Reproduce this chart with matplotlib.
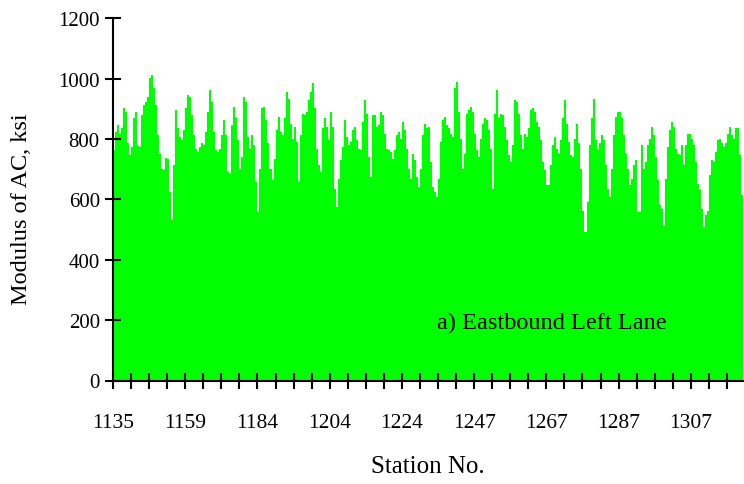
import numpy as np
import matplotlib.pyplot as plt

# modulus of AC (ksi) per test point
modulus_1 = [763, 823, 846, 818, 835, 901, 890, 785, 746, 774,
             868, 890, 777, 774, 879, 914, 923, 940, 1001, 1012,
             968, 912, 812, 751, 702, 696, 737, 733, 624, 530,
             713, 896, 835, 807, 796, 829, 901, 945, 940, 879,
             812, 768, 757, 774, 785, 779, 823, 890, 962, 923,
             823, 763]
modulus_2 = [757, 768, 812, 862, 812, 689, 685, 846, 907, 868,
             796, 702, 740, 940, 923, 807, 768, 812, 779, 657,
             558, 702, 901, 907, 862, 785, 702, 663, 735, 829,
             873, 823, 812, 868, 956, 934, 851, 801, 840, 790,
             657, 812, 884, 879, 890, 929, 956, 984, 901, 768,
             713, 691, 835]
modulus_3 = [868, 840, 796, 890, 840, 635, 574, 668, 729, 774,
             862, 807, 779, 790, 829, 840, 796, 768, 763, 857,
             929, 884, 740, 674, 879, 879, 840, 846, 890, 879,
             818, 768, 763, 757, 735, 763, 812, 823, 801, 857,
             829, 768, 702, 668, 751, 729, 674, 641, 702, 812,
             851, 835]
modulus_4 = [840, 724, 641, 624, 607, 668, 790, 862, 873, 846,
             835, 818, 807, 968, 990, 890, 801, 702, 751, 884,
             896, 907, 890, 818, 763, 740, 801, 851, 868, 862,
             829, 768, 635, 884, 962, 868, 884, 879, 840, 796,
             746, 724, 779, 929, 923, 884, 812, 768, 818, 807,
             835, 896, 901]
modulus_5 = [890, 857, 840, 796, 724, 696, 646, 646, 713, 779,
             807, 768, 751, 796, 868, 929, 851, 790, 746, 740,
             801, 851, 785, 702, 560, 491, 591, 779, 868, 934,
             796, 763, 785, 812, 796, 713, 635, 607, 702, 812,
             873, 890, 890, 868, 812, 751, 702, 646, 668, 713,
             729, 558]
modulus_6 = [558, 779, 702, 724, 779, 801, 840, 812, 740, 663,
             580, 569, 513, 668, 774, 829, 857, 840, 768, 751,
             746, 779, 713, 779, 818, 818, 801, 781, 724, 652,
             630, 569, 508, 547, 563, 679, 729, 724, 757, 796,
             801, 785, 774, 785, 818, 840, 812, 801, 835, 835,
             746, 613]

station_labels = ['1135', '1159', '1184', '1204', '1224',
                  '1247', '1267', '1287', '1307']

modulus = modulus_1 + modulus_2 + modulus_3 + modulus_4 + modulus_5 + modulus_6
n = len(modulus)
idx = np.arange(n)

plt.rcParams['font.family'] = ['Liberation Serif', 'DejaVu Serif']

fig = plt.figure(figsize=(7.44, 4.85), dpi=100)
ax = fig.add_axes([113/744, 1-381.5/485, 630/744, 362.3/485])

ax.bar(idx, modulus, width=1.0, color='#00ff00', edgecolor='none', align='center')

ax.set_xlim(-0.5, n - 0.5)
ax.set_ylim(0, 1200)
ax.set_yticks(np.arange(0, 1201, 200))

# tick every 9 points, label every 36
ax.set_xticks(np.arange(-0.5, n - 1, 9), minor=True)
ax.set_xticks(-0.5 + 36 * np.arange(len(station_labels)))
ax.set_xticklabels(station_labels)

for s in ['top', 'right']:
    ax.spines[s].set_visible(False)
for s in ['left', 'bottom']:
    ax.spines[s].set_linewidth(1.5)
    ax.spines[s].set_color('black')

ax.tick_params(axis='x', which='both', direction='inout', length=11, width=1.5,
               labelsize=15.5, pad=18)
ax.tick_params(axis='y', direction='inout', length=11, width=1.5,
               labelsize=15, pad=4)

ax.text(0.514, 0.161, 'a) Eastbound Left Lane', transform=ax.transAxes,
        fontsize=17.5, va='center', ha='left')

fig.text(428/744, 1-467/485, 'Station No.', fontsize=18, ha='center', va='center')
fig.text(22/744, 1-209/485, 'Modulus of AC, ksi', fontsize=17.5, ha='center',
         va='center', rotation=90)

fig.savefig('out.png', dpi=100)
